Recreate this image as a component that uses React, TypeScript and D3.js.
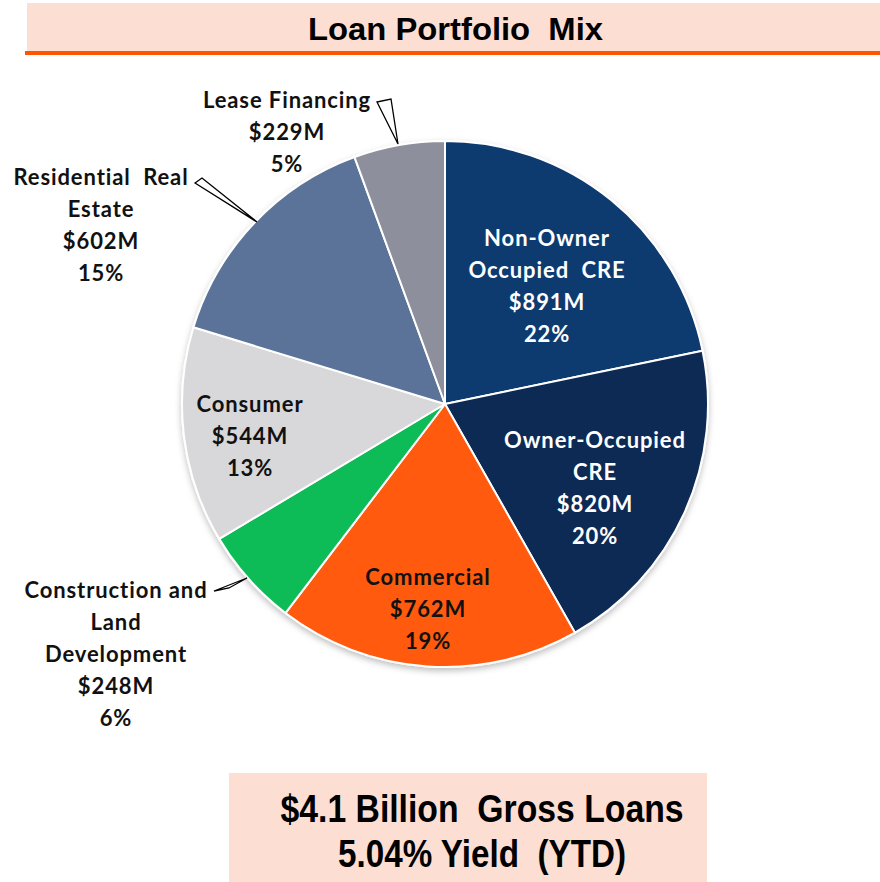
import React from "react";
import * as d3 from "d3";

const categories = [
  "Non-Owner Occupied CRE",
  "Owner-Occupied CRE",
  "Commercial",
  "Construction and Land Development",
  "Consumer",
  "Residential Real Estate",
  "Lease Financing",
];
const amounts = [891, 820, 762, 248, 544, 602, 229];
const amountLabels = ["$891M", "$820M", "$762M", "$248M", "$544M", "$602M", "$229M"];
const percentLabels = ["22%", "20%", "19%", "6%", "13%", "15%", "5%"];
const nameLines = [
  ["Non-Owner", "Occupied  CRE"],
  ["Owner-Occupied", "CRE"],
  ["Commercial"],
  ["Construction and", "Land", "Development"],
  ["Consumer"],
  ["Residential  Real", "Estate"],
  ["Lease Financing"],
];
const colors = ["#0B3A6F", "#0B2A55", "#FF5A0D", "#10BC57", "#D8D8DA", "#5B7399", "#8E8F9C"];
const title = "Loan Portfolio  Mix";
const footerLines = ["$4.1 Billion  Gross Loans", "5.04% Yield  (YTD)"];

// layout (label anchors: center x, first-line y)
const labelPos: Record<string, { x: number; y: number; fill: string }> = {
  "Non-Owner Occupied CRE": { x: 547, y: 246, fill: "#fff" },
  "Owner-Occupied CRE": { x: 595, y: 448, fill: "#fff" },
  Commercial: { x: 428, y: 585, fill: "#111" },
  "Construction and Land Development": { x: 116, y: 598, fill: "#111" },
  Consumer: { x: 250, y: 412, fill: "#111" },
  "Residential Real Estate": { x: 101, y: 185, fill: "#111" },
  "Lease Financing": { x: 287, y: 108, fill: "#111" },
};
const callouts: Record<string, [number, number][]> = {
  "Lease Financing": [[377, 102], [391, 99], [398, 144]],
  "Residential Real Estate": [[195, 183], [202, 178], [257, 222]],
  "Construction and Land Development": [[214, 591], [229, 588], [247, 578]],
};

export default function App() {
  const W = 880, H = 882;
  const cx = 445, cy = 404, r = 263;
  const pie = d3.pie<number>().sort(null).value((d) => d).startAngle(0).endAngle(2 * Math.PI);
  const arcs = pie(amounts);
  const arc = d3.arc<d3.PieArcDatum<number>>().innerRadius(0).outerRadius(r);
  const lh = 32;
  return (
    <svg width={W} height={H} style={{ position: "absolute", left: 0, top: 0 }}>
      <defs>
        <filter id="sh" x="-20%" y="-20%" width="140%" height="140%">
          <feDropShadow dx="0" dy="3" stdDeviation="3" floodColor="#000" floodOpacity="0.25" />
        </filter>
      </defs>
      <rect x={0} y={0} width={W} height={H} fill="#fff" />
      {/* title bar */}
      <rect x={27} y={3} width={W - 27} height={48} fill="#FDDED2" />
      <rect x={25} y={51} width={W - 25} height={4} fill="#FF5500" />
      <text
        x={455.5}
        y={40}
        textAnchor="middle"
        fontFamily="'Liberation Sans', Arial, sans-serif"
        fontWeight="bold"
        fontSize={32}
        textLength={295}
        lengthAdjust="spacingAndGlyphs"
        fill="#000"
        style={{ whiteSpace: "pre" }}
      >
        {title}
      </text>
      {/* pie */}
      <g transform={`translate(${cx},${cy})`} filter="url(#sh)">
        {arcs.map((a, i) => (
          <path key={i} d={arc(a) || ""} fill={colors[i]} stroke="#fff" strokeWidth={2} strokeLinejoin="round" />
        ))}
      </g>
      {/* callouts */}
      {Object.entries(callouts).map(([k, pts]) => (
        <polygon key={k} points={pts.map((p) => p.join(",")).join(" ")} fill="#fff" stroke="#000" strokeWidth={1.3} strokeLinejoin="miter" />
      ))}
      {/* labels */}
      {categories.map((c, i) => {
        const p = labelPos[c];
        const lines = [...nameLines[i], amountLabels[i], percentLabels[i]];
        return (
          <text
            key={c}
            textAnchor="middle"
            fontFamily="Lato, 'Open Sans', sans-serif"
            fontWeight="bold"
            fontSize={22}
            letterSpacing={0.9}
            fill={p.fill}
          >
            {lines.map((l, j) => (
              <tspan key={j} x={p.x} y={p.y + j * lh} style={{ whiteSpace: "pre" }}>
                {l}
              </tspan>
            ))}
          </text>
        );
      })}
      {/* footer box */}
      <rect x={229} y={773} width={478} height={109} fill="#FDDED2" />
      {footerLines.map((l, j) => (
        <text
          key={j}
          x={482}
          y={822 + j * 45}
          textAnchor="middle"
          fontFamily="'Liberation Sans', Arial, sans-serif"
          fontWeight="bold"
          fontSize={38}
          textLength={j === 0 ? 403 : 288}
          lengthAdjust="spacingAndGlyphs"
          fill="#000"
          style={{ whiteSpace: "pre" }}
        >
          {l}
        </text>
      ))}
    </svg>
  );
}
